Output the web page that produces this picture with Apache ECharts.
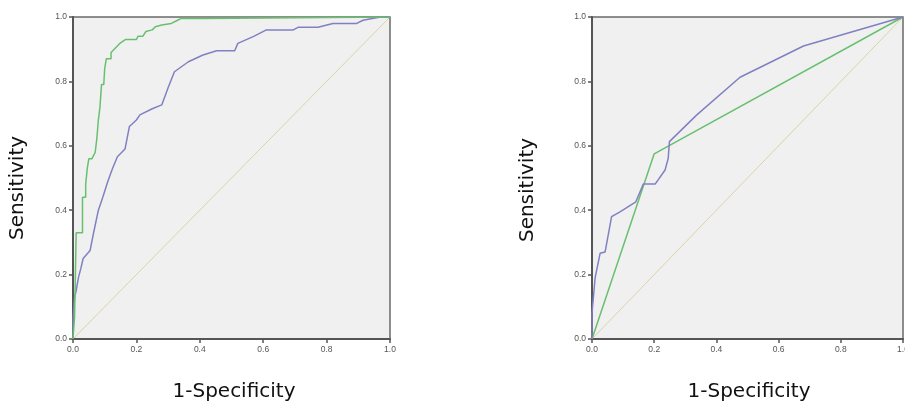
<!DOCTYPE html>
<html>
<head>
<meta charset="utf-8">
<script src="https://cdn.jsdelivr.net/npm/echarts@6/dist/echarts.min.js"></script>
<style>html,body{margin:0;padding:0;background:#fff}#c{width:905px;height:405px}</style>
</head>
<body>
<div id="c"></div>
<script>
// ---- data (x = 1-Specificity, y = Sensitivity) ----
const tickValues = [0, 0.2, 0.4, 0.6, 0.8, 1.0];
const xAxisTitle = '1-Specificity';
const yAxisTitle = 'Sensitivity';

const leftGreen = [[0,0],[0.005,0],[0.005,0.07],[0.01,0.07],[0.01,0.33],[0.03,0.33],[0.03,0.44],[0.04,0.44],[0.04,0.48],[0.045,0.48],[0.045,0.53],[0.05,0.53],[0.05,0.56],[0.06,0.56],[0.07,0.58],[0.075,0.58],[0.075,0.62],[0.08,0.62],[0.08,0.68],[0.085,0.72],[0.09,0.72],[0.09,0.79],[0.097,0.79],[0.1,0.84],[0.105,0.87],[0.12,0.87],[0.12,0.89],[0.13,0.90],[0.14,0.91],[0.15,0.92],[0.165,0.93],[0.2,0.93],[0.205,0.94],[0.22,0.94],[0.23,0.955],[0.25,0.96],[0.26,0.97],[0.28,0.975],[0.31,0.98],[0.33,0.99],[0.34,0.995],[0.41,0.995],[0.41,1],[1,1]];
const leftBlue = [[0,0],[0,0.06],[0.005,0.13],[0.01,0.15],[0.017,0.19],[0.025,0.22],[0.032,0.25],[0.045,0.265],[0.054,0.275],[0.065,0.33],[0.08,0.40],[0.094,0.44],[0.11,0.49],[0.125,0.53],[0.14,0.566],[0.164,0.59],[0.178,0.66],[0.2,0.68],[0.211,0.696],[0.25,0.715],[0.28,0.727],[0.3,0.78],[0.32,0.83],[0.364,0.861],[0.41,0.882],[0.453,0.895],[0.51,0.895],[0.52,0.918],[0.57,0.94],[0.61,0.96],[0.695,0.96],[0.71,0.968],[0.773,0.968],[0.82,0.98],[0.895,0.98],[0.915,0.99],[0.97,1.0],[1,1]];
const rightBlue = [[0,0],[0,0.08],[0.01,0.19],[0.026,0.266],[0.042,0.27],[0.063,0.38],[0.09,0.395],[0.141,0.426],[0.165,0.481],[0.203,0.481],[0.235,0.525],[0.245,0.561],[0.249,0.613],[0.337,0.696],[0.476,0.813],[0.68,0.91],[1,1]];
const rightGreen = [[0,0],[0.2,0.575],[1,1]];
const reference = [[0,0],[1,1]];

const BLUE = '#8080c2', GREEN = '#68c06f', REF = '#d9d4a6';

function mkAxis(gi){
  return {
    type:'value', gridIndex:gi, min:0, max:1, interval:0.2,
    axisLine:{show:true, onZero:false, lineStyle:{color:'#555', width:2}},
    axisTick:{show:true, length:4, lineStyle:{color:'#555', width:1.5}},
    axisLabel:{fontSize:8.5, color:'#555', fontFamily:'Liberation Sans', margin:6, formatter:v=>v.toFixed(1)},
    splitLine:{show:false}
  };
}

function line(data, color, xi, w){
  return {type:'line', data:data, xAxisIndex:xi, yAxisIndex:xi, showSymbol:false, symbol:'none',
    lineStyle:{color:color, width:w}, silent:true, animation:false, z: 3};
}

const chart = echarts.init(document.getElementById('c'), null, {renderer:'canvas'});
const labelFont = {fontSize:20, fontFamily:'DejaVu Sans', fill:'#111'};
chart.setOption({
  animation:false,
  grid:[
    {left:73, top:17, width:317, height:322, containLabel:false, outerBoundsMode:'none', show:true, backgroundColor:'#f0f0f0', borderColor:'#6a6a6a', borderWidth:1.5},
    {left:592, top:17, width:311, height:322, containLabel:false, outerBoundsMode:'none', show:true, backgroundColor:'#f0f0f0', borderColor:'#6a6a6a', borderWidth:1.5}
  ],
  xAxis:[mkAxis(0), mkAxis(1)],
  yAxis:[mkAxis(0), mkAxis(1)],
  series:[
    line(reference, REF, 0, 1),
    line(leftBlue, BLUE, 0, 1.5),
    line(leftGreen, GREEN, 0, 1.5),
    line(reference, REF, 1, 1),
    line(rightGreen, GREEN, 1, 1.5),
    line(rightBlue, BLUE, 1, 1.5)
  ],
  graphic:[
    {type:'text', x:234, y:392, style:Object.assign({text:xAxisTitle, textAlign:'center', textVerticalAlign:'middle'}, labelFont)},
    {type:'text', x:749, y:392, style:Object.assign({text:xAxisTitle, textAlign:'center', textVerticalAlign:'middle'}, labelFont)},
    {type:'text', x:18, y:188, rotation:Math.PI/2, style:Object.assign({text:yAxisTitle, textAlign:'center', textVerticalAlign:'middle'}, labelFont)},
    {type:'text', x:528, y:190, rotation:Math.PI/2, style:Object.assign({text:yAxisTitle, textAlign:'center', textVerticalAlign:'middle'}, labelFont)}
  ]
});
</script>
</body>
</html>
